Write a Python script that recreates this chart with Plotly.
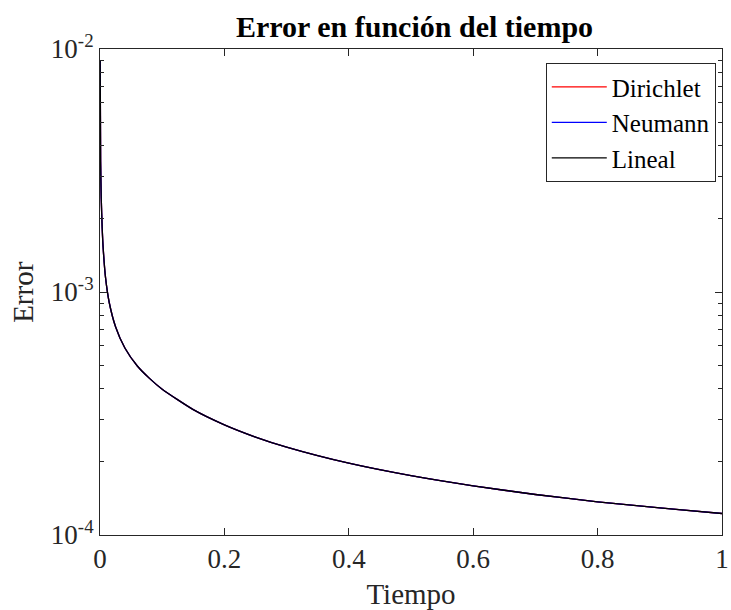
import plotly.graph_objects as go

# Data
tiempo = [0.0003, 0.001, 0.002, 0.0035, 0.005, 0.009, 0.015, 0.025, 0.04, 0.06, 0.08,
          0.1, 0.15, 0.2, 0.25, 0.3, 0.4, 0.5, 0.6, 0.7, 0.8, 0.9, 1.0]
error_dirichlet = [9.0e-3, 3.44e-3, 2.43e-3, 1.84e-3, 1.53e-3, 1.14e-3, 9.01e-4, 7.20e-4,
                   5.88e-4, 4.96e-4, 4.40e-4, 3.98e-4, 3.28e-4, 2.84e-4, 2.53e-4,
                   2.30e-4, 1.975e-4, 1.755e-4, 1.594e-4, 1.468e-4, 1.370e-4, 1.292e-4,
                   1.226e-4]
error_neumann = list(error_dirichlet)
error_lineal = list(error_dirichlet)

series_names = ["Dirichlet", "Neumann", "Lineal"]
series_colors = ["#ff0000", "#0000ff", "#000000"]
series_values = [error_dirichlet, error_neumann, error_lineal]

y_tickvals = [1e-4, 1e-3, 1e-2]
y_ticktext = ["10<sup>-4</sup>", "10<sup>-3</sup>", "10<sup>-2</sup>"]
x_tickvals = [0, 0.2, 0.4, 0.6, 0.8, 1]
x_ticktext = ["0", "0.2", "0.4", "0.6", "0.8", "1"]

FONT = "Liberation Serif, Times New Roman, serif"
AX = "#262626"

fig = go.Figure()
for name, col, vals in zip(series_names, series_colors, series_values):
    fig.add_trace(go.Scatter(x=tiempo, y=vals, mode="lines", name=name,
                             line=dict(color=col, width=1.3, shape="spline", smoothing=0.6)))

fig.update_layout(
    width=731, height=610,
    margin=dict(l=100, r=2, t=49, b=75),
    paper_bgcolor="white", plot_bgcolor="white",
    font=dict(family=FONT, color=AX, size=26),
    title=dict(text="<b>Error en función del tiempo</b>", x=(100 + 729) / 2 / 731,
               xanchor="center", y=1 - 26 / 610, yanchor="middle",
               font=dict(family=FONT, size=30, color="#000000")),
    showlegend=True,
    legend=dict(x=0.99, y=0.971, xanchor="right", yanchor="top",
                bordercolor=AX, borderwidth=1, bgcolor="white",
                font=dict(family=FONT, size=25, color="#000000"),
                tracegroupgap=0, itemwidth=55),
    annotations=[dict(text="Error", xref="paper", yref="paper",
                      x=-(100 - 22) / 629, y=0.5, xanchor="center", yanchor="middle",
                      textangle=-90, showarrow=False,
                      font=dict(family=FONT, size=29, color=AX))],
)
fig.update_xaxes(
    range=[0, 1], tickvals=x_tickvals, ticktext=x_ticktext,
    ticks="inside", ticklen=7, tickcolor=AX, tickwidth=1,
    showline=True, linecolor=AX, linewidth=1, mirror="allticks",
    showgrid=False, zeroline=False, ticklabeloverflow="allow",
    tickfont=dict(family=FONT, size=27, color=AX),
    title=dict(text="Tiempo", font=dict(family=FONT, size=29, color=AX), standoff=13),
)
fig.update_yaxes(
    type="log", range=[-4, -2], tickvals=y_tickvals, ticktext=y_ticktext,
    ticks="inside", ticklen=7, tickcolor=AX, tickwidth=1,
    showline=True, linecolor=AX, linewidth=1, mirror="allticks",
    showgrid=False, zeroline=False,
    minor=dict(ticks="inside", ticklen=4, tickcolor=AX, tickwidth=1, showgrid=False,
               dtick="D1"),
    tickfont=dict(family=FONT, size=27, color=AX),
)

fig.write_html("out.html")
